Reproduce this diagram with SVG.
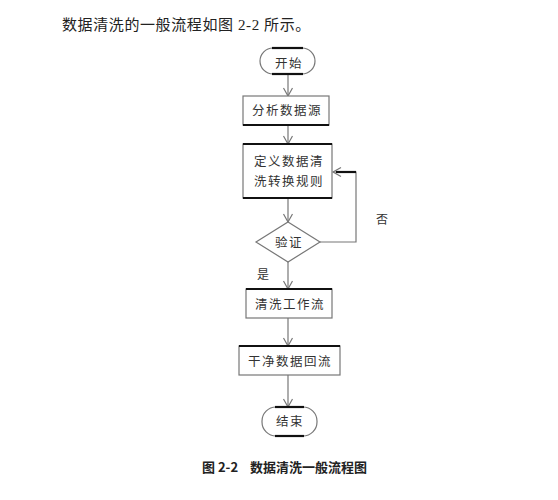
<svg xmlns="http://www.w3.org/2000/svg" width="558" height="500" viewBox="0 0 558 500">
<style>
.box{fill:#fff;stroke:#777;stroke-width:1.2}
.edge{stroke:#111;stroke-width:2.2;fill:none}
.t{font-family:"Liberation Serif","Noto Sans CJK SC",serif;font-size:12.5px;fill:#333;text-anchor:middle;letter-spacing:1.5px}
.c{stroke:#777;stroke-width:1.2;fill:none}
.lab{font-family:"Liberation Serif","Noto Sans CJK SC",serif;font-size:12px;fill:#333;text-anchor:middle}
</style>
<defs>
<marker id="ah" markerUnits="userSpaceOnUse" markerWidth="12" markerHeight="12" refX="9" refY="5" orient="auto">
<path d="M1,0.5 L9,5 L1,9.5" fill="none" stroke="#777" stroke-width="1.2"/>
</marker>
</defs>
<rect width="558" height="500" fill="#fff"/>
<text x="62" y="30" font-family="'Liberation Serif','Noto Sans CJK SC',serif" font-size="15" letter-spacing="0.6" fill="#222">数据清洗的一般流程如图 2-2 所示。</text>
<g id="connectors">
<line class="c" x1="288" y1="74" x2="288" y2="96" marker-end="url(#ah)"/>
<line class="c" x1="288" y1="125" x2="288" y2="144" marker-end="url(#ah)"/>
<line class="c" x1="288" y1="198" x2="288" y2="222" marker-end="url(#ah)"/>
<line class="c" x1="288" y1="262" x2="288" y2="289" marker-end="url(#ah)"/>
<line class="c" x1="288" y1="318" x2="288" y2="346" marker-end="url(#ah)"/>
<line class="c" x1="288" y1="375" x2="288" y2="407" marker-end="url(#ah)"/>
<polyline class="c" points="320,242 356,242 356,172 333,172" marker-end="url(#ah)"/>
<line class="edge" x1="336" y1="172" x2="356" y2="172" stroke-width="1.8"/>
<text class="lab" x="382" y="224">否</text>
<text class="lab" x="263" y="279">是</text>
</g>
<g id="start">
<rect class="box" x="260" y="48" width="55" height="26" rx="13"/>
<line class="edge" x1="272" y1="48" x2="303" y2="48"/>
<line class="edge" x1="272" y1="74" x2="303" y2="74"/>
<text class="t" x="289" y="68">开始</text>
</g>
<g id="analyze">
<rect class="box" x="243" y="96" width="86" height="29"/>
<line class="edge" x1="243" y1="125" x2="329" y2="125"/>
<text class="t" x="287" y="115">分析数据源</text>
</g>
<g id="define">
<rect class="box" x="243" y="144" width="89" height="54"/>
<line class="edge" x1="243" y1="144" x2="332" y2="144"/>
<line class="edge" x1="243" y1="198" x2="332" y2="198"/>
<text class="t" x="289" y="166">定义数据清</text>
<text class="t" x="289" y="186">洗转换规则</text>
</g>
<g id="verify">
<polygon class="box" points="288,222 320,242 288,262 256,242"/>
<text class="t" x="289" y="246.5">验证</text>
</g>
<g id="workflow">
<rect class="box" x="246" y="289" width="86" height="29"/>
<line class="edge" x1="246" y1="289" x2="332" y2="289"/>
<text class="t" x="290" y="309">清洗工作流</text>
</g>
<g id="backflow">
<rect class="box" x="239" y="346" width="101" height="29"/>
<line class="edge" x1="239" y1="346" x2="340" y2="346"/>
<text class="t" x="290" y="366">干净数据回流</text>
</g>
<g id="end">
<rect class="box" x="262" y="407" width="55" height="29" rx="14"/>
<line class="edge" x1="275" y1="407" x2="304" y2="407"/>
<line class="edge" x1="275" y1="436" x2="304" y2="436"/>
<text class="t" x="290" y="426">结束</text>
</g>
<text x="202" y="472" font-family="'Noto Sans CJK SC',sans-serif" font-size="13" font-weight="bold" fill="#222">图 2-2<tspan x="250">数据清洗一般流程图</tspan></text>
</svg>
